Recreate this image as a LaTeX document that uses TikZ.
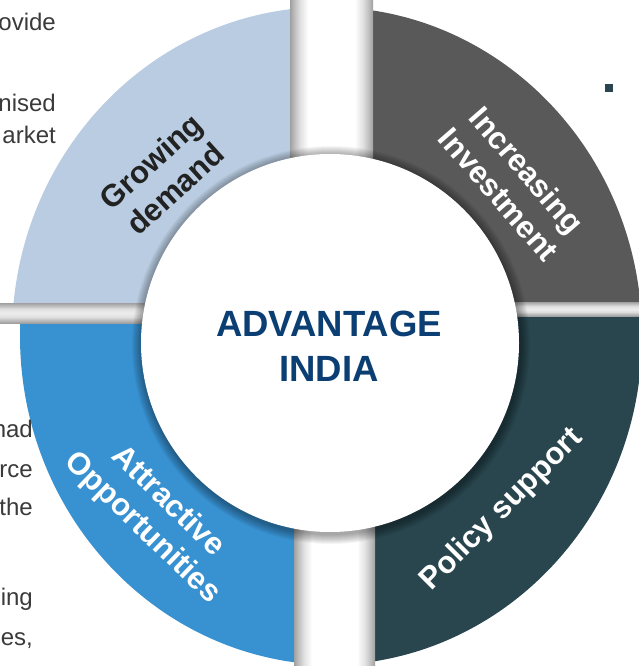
\documentclass[tikz,border=0pt]{standalone}
\usepackage{fontspec}
\setmainfont{Liberation Sans}
\definecolor{cTL}{HTML}{B9CCE1}
\definecolor{cTR}{HTML}{595959}
\definecolor{cBL}{HTML}{3891D0}
\definecolor{cBR}{HTML}{29464E}
\definecolor{cTitle}{HTML}{0B3F73}
\definecolor{cBody}{HTML}{3A3A3A}
\definecolor{cDark}{HTML}{222222}
\definecolor{bandD}{HTML}{A0A0A0}
\definecolor{bandM}{HTML}{BDBDBD}
\definecolor{bandL}{HTML}{E0E0E0}
\definecolor{bandW}{HTML}{ECECEC}
\pgfdeclarehorizontalshading{vband}{100bp}{color(0bp)=(bandD); color(25bp)=(bandD); color(27.5bp)=(bandM); color(31bp)=(bandL); color(36bp)=(white); color(64bp)=(white); color(69bp)=(bandL); color(72.5bp)=(bandM); color(75bp)=(bandD); color(100bp)=(bandD)}
\pgfdeclareverticalshading{hband}{100bp}{color(0bp)=(bandD); color(25bp)=(bandD); color(32bp)=(bandM); color(40bp)=(bandL); color(50bp)=(bandW); color(60bp)=(bandL); color(68bp)=(bandM); color(75bp)=(bandD); color(100bp)=(bandD)}
\begin{document}
\begin{tikzpicture}[x=1pt,y=-1pt,
  seglabel/.style={font=\bfseries\fontsize{31}{37}\selectfont, align=center, inner sep=0pt},
  sidetext/.style={font=\fontsize{24}{28}\selectfont, text=cBody, anchor=base east, inner sep=0pt},
  titletext/.style={font=\bfseries\fontsize{36.5}{45}\selectfont, text=cTitle, align=center, inner sep=0pt}]
\useasboundingbox (0,0) rectangle (639,666);
\begin{scope}
\clip (0,0) rectangle (639,666);
% quadrants
\begin{scope}\clip (0,0) rectangle (290,303);
  \fill[cTL] (327,336) ellipse[x radius=315pt, y radius=329pt];\end{scope}
\begin{scope}\clip (373,0) rectangle (639,302);
  \fill[cTR] (327,336) ellipse[x radius=315pt, y radius=329pt];\end{scope}
\begin{scope}\clip (0,323) rectangle (294,666);
  \fill[cBL] (335,336) ellipse[x radius=315pt, y radius=329pt];\end{scope}
\begin{scope}\clip (375,316) rectangle (639,666);
  \fill[cBR] (327,336) ellipse[x radius=315pt, y radius=329pt];\end{scope}
% gap bands
\shade[shading=vband] (290,0) rectangle (373,310);
\shade[shading=vband] (294,310) rectangle (375,666);
\shade[shading=hband] (0,303) rectangle (292,323);
\shade[shading=hband] (374,302) rectangle (639,316);
% shadow of the centre disc
\foreach \r in {190,191,...,199} {
  \fill[black, opacity=0.04] (331,345) circle[radius=\r pt];
}
\node[circle, fill=white, minimum size=378pt, inner sep=0pt] (disc) at (330,343) {};
\node[titletext] (title) at (329,346.5) {ADVANTAGE\\INDIA};
% segment labels
\node[seglabel, text=cDark, rotate=42] (lblTL) at (163,175) {Growing\\demand};
\node[seglabel, text=white, rotate=-49] (lblTR) at (513,182) {Increasing\\Investment};
\node[seglabel, text=white, rotate=-44] (lblBL) at (155,515) {Attractive\\Opportunities};
\node[seglabel, text=white, rotate=45] (lblBR) at (502,510) {Policy support};
% cut-off side text
\node[sidetext] (t1) at (56,31) {ovide};
\node[sidetext] (t2) at (56,111) {nised};
\node[sidetext] (t3) at (56,143) {arket};
\node[sidetext] (t4) at (33,437) {had};
\node[sidetext] (t5) at (33,477) {rce};
\node[sidetext] (t6) at (33,515) {the};
\node[sidetext] (t7) at (33,605) {ing};
\node[sidetext] (t8) at (33,645) {es,};
% bullet
\node[fill=cBR, minimum size=7.5pt, inner sep=0pt] (bullet) at (609,88) {};
\end{scope}
\end{tikzpicture}
\end{document}
